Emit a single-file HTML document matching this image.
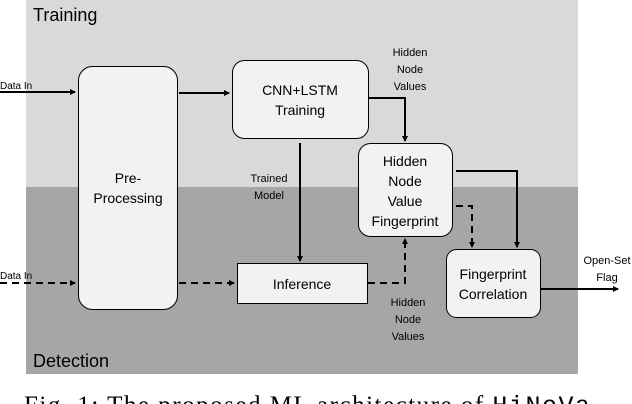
<!DOCTYPE html>
<html><head><meta charset="utf-8"><style>
body{margin:0;width:632px;height:404px;overflow:hidden;background:#fff;position:relative;font-family:"Liberation Sans","DejaVu Sans",sans-serif}
</style></head><body>
<svg width="632" height="404" xmlns="http://www.w3.org/2000/svg" style="position:absolute;left:0;top:0">
<defs><marker id="a" markerWidth="6" markerHeight="6" refX="5" refY="3" orient="auto" markerUnits="userSpaceOnUse"><path d="M0,0 L6,3 L0,6 z" fill="#000"/></marker></defs>
<rect x="26" y="0" width="552" height="187" fill="#d9d9d9"/>
<rect x="26" y="187" width="552" height="187" fill="#a6a6a6"/>
<g font-family="Liberation Sans, sans-serif" fill="#000">
<text x="33" y="21" font-size="18">Training</text>
<text x="33" y="367" font-size="18">Detection</text>
</g>
<g stroke="#000" stroke-width="1" fill="#f2f2f2">
<rect x="78.5" y="66.5" width="99" height="243" rx="14"/>
<rect x="232.5" y="60.5" width="136" height="78" rx="12"/>
<rect x="358.5" y="143.5" width="94" height="93" rx="12"/>
<rect x="237.5" y="263.5" width="130" height="40"/>
<rect x="446.5" y="249.5" width="94" height="68" rx="10"/>
</g>
<g stroke="#000" stroke-width="2" fill="none">
<line x1="0" y1="92" x2="75" y2="92" marker-end="url(#a)"/>
<line x1="179" y1="93" x2="229" y2="93" marker-end="url(#a)"/>
<polyline points="369,98 405,98 405,141" marker-end="url(#a)"/>
<line x1="300" y1="143" x2="300" y2="261" marker-end="url(#a)"/>
<polyline points="456,171 517,171 517,247" marker-end="url(#a)"/>
<line x1="541" y1="289" x2="618" y2="289" marker-end="url(#a)"/>
</g>
<g stroke="#000" stroke-width="2" fill="none" stroke-dasharray="7,5">
<line x1="0" y1="283" x2="75" y2="283" marker-end="url(#a)"/>
<line x1="179" y1="283" x2="234" y2="283" marker-end="url(#a)"/>
<polyline points="368,283 405,283 405,239" marker-end="url(#a)"/>
<polyline points="456,206 472,206 472,247" marker-end="url(#a)"/>
</g>
<g font-family="Liberation Sans, sans-serif" fill="#000" text-anchor="middle">
<text x="128" y="183" font-size="14">Pre-</text>
<text x="128" y="203" font-size="14">Processing</text>
<text x="300" y="95" font-size="14">CNN+LSTM</text>
<text x="300" y="115" font-size="14">Training</text>
<text x="405" y="166" font-size="14">Hidden</text>
<text x="405" y="186" font-size="14">Node</text>
<text x="405" y="206" font-size="14">Value</text>
<text x="405" y="226" font-size="14">Fingerprint</text>
<text x="302" y="289" font-size="14">Inference</text>
<text x="493" y="279" font-size="14">Fingerprint</text>
<text x="493" y="299" font-size="14">Correlation</text>
<g font-size="11">
<text x="410" y="56">Hidden</text><text x="410" y="73">Node</text><text x="410" y="90">Values</text>
<text x="408" y="306">Hidden</text><text x="408" y="323">Node</text><text x="408" y="340">Values</text>
<text x="269" y="182">Trained</text><text x="269" y="199">Model</text>
<text x="607" y="264">Open-Set</text><text x="607" y="281">Flag</text>
</g>
</g>
<g font-family="Liberation Sans, sans-serif" font-size="10" fill="#000">
<text x="0" y="89">Data In</text>
<text x="0" y="279">Data In</text>
</g>
<text x="24" y="413" font-family="Liberation Serif, serif" font-size="25" fill="#000" textLength="566">Fig. 1: The proposed ML architecture of <tspan font-family="Liberation Mono, monospace">HiNoVa</tspan></text>
</svg>
</body></html>
